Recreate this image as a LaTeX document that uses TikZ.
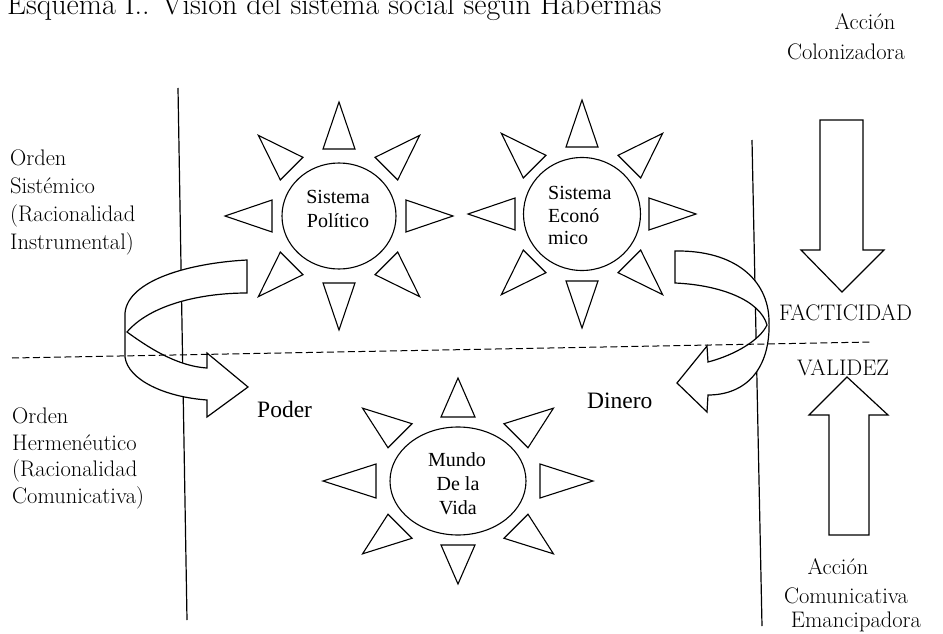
\documentclass[tikz,border=0pt]{standalone}
\usepackage{fontspec}
\newfontfamily\tnr{Liberation Serif}
\usetikzlibrary{shapes.geometric}
\newcommand\drawrays[7]{%
  \foreach \a in {0,45,...,315}{%
    \draw[ray] ({#1+#3*cos(\a)+#7*sin(\a)},{#2+#4*sin(\a)-#7*cos(\a)})
      -- ({#1+#5*cos(\a)},{#2+#6*sin(\a)})
      -- ({#1+#3*cos(\a)-#7*sin(\a)},{#2+#4*sin(\a)+#7*cos(\a)}) -- cycle;}}
\begin{document}
\begin{tikzpicture}[x=1pt,y=-1pt,
  ray/.style={draw,line width=1.1pt,line join=miter,fill=white},
  core/.style={draw,ellipse,line width=1.1pt,inner sep=0pt},
  vline/.style={line width=1.2pt},
  ribbon/.style={draw,fill=white,line width=1.2pt,line join=miter},
  blockarrow/.style={draw,fill=white,line width=1.2pt,line join=miter},
  gar/.style={font=\fontsize{22.5}{28}\selectfont,inner sep=0pt,align=left},
  garb/.style={font=\fontsize{22.5}{26.5}\selectfont,inner sep=0pt,align=left},
  garc/.style={font=\fontsize{22.5}{28}\selectfont,inner sep=0pt},
  inlbl/.style={font=\tnr\fontsize{20}{24}\selectfont,inner sep=0pt},
  flow/.style={font=\tnr\fontsize{23.5}{28}\selectfont,inner sep=0pt}]
\useasboundingbox (0,0) rectangle (943,634);

% title (partly cut by the top edge)
\node[anchor=base west,inner sep=0pt,font=\fontsize{30}{34}\selectfont] (title) at (7,15) {Esquema I.. Visión del sistema social según Habermas};

% vertical lines
\coordinate (l1) at (178,88);
\coordinate (l2) at (187,620);
\coordinate (r1) at (752,140);
\coordinate (r2) at (762,626);
\draw[vline] (l1) -- (l2);
\draw[vline] (r1) -- (r2);

% left curved ribbon arrow (Poder)
\draw[ribbon] (247,260) .. controls (190,263) and (128,280) .. (125,313)
  -- (125,357) .. controls (128,380) and (165,397) .. (207,400)
  -- (207,417) -- (248,387) -- (207,353) -- (207,368)
  .. controls (175,366) and (145,345) .. (127,332)
  .. controls (150,305) and (200,293) .. (247,293) -- cycle;

% right curved ribbon arrow (Dinero)
\draw[ribbon] (675,251) .. controls (735,250) and (768,280) .. (769,320)
  .. controls (771,370) and (745,395) .. (708,395)
  -- (707,412) -- (677,383) -- (707,346) -- (708,362)
  .. controls (735,355) and (760,340) .. (767,325)
  .. controls (760,300) and (720,285) .. (675,283) -- cycle;

% suns
\drawrays{339}{216}{67}{67}{114}{114}{16}
\node[core,minimum width=114pt,minimum height=106pt] (pol) at (339,216) {};
\drawrays{582}{214}{67}{67}{114}{114}{16}
\node[core,minimum width=117pt,minimum height=113pt] (eco) at (582,214) {};
\drawrays{458}{481}{82}{64}{135}{103}{17}
\node[core,minimum width=136pt,minimum height=108pt] (mun) at (458,481) {};

\node[inlbl,anchor=base] (pol1) at (338,203) {Sistema};
\node[inlbl,anchor=base] (pol2) at (338,227) {Político};
\node[inlbl,anchor=base west] (eco1) at (548,199) {Sistema};
\node[inlbl,anchor=base west] (eco2) at (548,222) {Econó};
\node[inlbl,anchor=base west] (eco3) at (548,244) {mico};
\node[inlbl,anchor=base] (mun1) at (457,466) {Mundo};
\node[inlbl,anchor=base] (mun2) at (458,490) {De la};
\node[inlbl,anchor=base] (mun3) at (458,514) {Vida};

% block arrows on the right
\draw[blockarrow] (820,120) -- (863,120) -- (863,250) -- (884,250) -- (842,292)
  -- (801,250) -- (820,250) -- cycle;
\draw[blockarrow] (847,377) -- (888,415) -- (869,415) -- (869,535) -- (829,535)
  -- (829,415) -- (809,415) -- cycle;

% dashed divider
\coordinate (d1) at (12,358);
\coordinate (d2) at (872,342);
\draw[line width=1pt,dash pattern=on 7pt off 3.5pt] (d1) -- (d2);

% left labels (anchor = baseline of last line)
\node[gar,anchor=base west] (sis) at (10,249) {Orden\\Sistémico\\(Racionalidad\\Instrumental)};
\node[garb,anchor=base west] (her) at (12,503) {Orden\\Hermenéutico\\(Racionalidad\\Comunicativa)};

% flow labels
\node[flow,anchor=base west] (poder) at (257,417) {Poder};
\node[flow,anchor=base west] (dinero) at (587,408) {Dinero};

% right labels
\node[garc,anchor=base] (ac1) at (865,30) {Acción};
\node[garc,anchor=base] (ac2) at (846,60) {Colonizadora};
\node[garc,anchor=base west] (fac) at (779,320) {FACTICIDAD};
\node[garc,anchor=base west] (val) at (797,375) {VALIDEZ};
\node[garc,anchor=base] (ae1) at (838,574) {Acción};
\node[garc,anchor=base] (ae2) at (846,603) {Comunicativa};
\node[garc,anchor=base] (ae3) at (856,627) {Emancipadora};
\end{tikzpicture}
\end{document}
